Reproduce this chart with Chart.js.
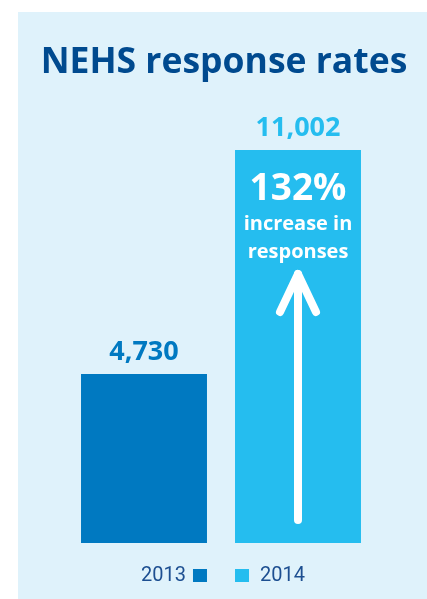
<!DOCTYPE html>
<html>
<head>
<meta charset="utf-8">
<script src="https://cdn.jsdelivr.net/npm/chart.js@4/dist/chart.umd.min.js"></script>
<style>
  html, body { margin: 0; padding: 0; background: #ffffff; }
  body { width: 427px; height: 599px; position: relative; overflow: hidden; }
  #panel { position: absolute; left: 18px; top: 12px; width: 409px; height: 587px; background: #dff2fb; }
  #panel canvas { display: block; }
</style>
</head>
<body>
<div id="panel"><canvas id="c" width="409" height="587"></canvas></div>
<script>
const categories = ['2013', '2014'];
const responses = [4730, 11002];
const valueLabels = ['4,730', '11,002'];
const increaseLabel = ['132%', 'increase in', 'responses'];
const titleText = 'NEHS response rates';

const barColors = ['#0079c1', '#25bdef'];
const FONT = '"Open Sans", "Noto Sans", sans-serif';

const overlay = {
  id: 'overlay',
  afterDatasetsDraw(chart) {
    const ctx = chart.ctx;
    const meta = chart.getDatasetMeta(0);
    const bars = meta.data;
    ctx.save();
    // title
    ctx.textAlign = 'center';
    ctx.textBaseline = 'alphabetic';
    ctx.fillStyle = '#004a8f';
    ctx.font = 'bold 35.5px ' + FONT;
    ctx.fillText(titleText, chart.width / 2 + 1.5, 61);
    // value labels above bars
    ctx.font = 'bold 27px ' + FONT;
    bars.forEach((b, i) => {
      ctx.fillStyle = barColors[i];
      ctx.fillText(valueLabels[i], b.x, b.y - 14);
    });
    // text inside the 2014 bar
    const b1 = bars[1];
    ctx.fillStyle = '#ffffff';
    ctx.font = 'bold 37px ' + FONT;
    ctx.fillText(increaseLabel[0], b1.x, b1.y + 50);
    ctx.font = 'bold 20px ' + FONT;
    ctx.fillText(increaseLabel[1], b1.x, b1.y + 80);
    ctx.fillText(increaseLabel[2], b1.x, b1.y + 108);
    // arrow
    ctx.strokeStyle = '#ffffff';
    ctx.lineWidth = 8;
    ctx.lineCap = 'round';
    ctx.lineJoin = 'round';
    const tipY = b1.y + 124;
    ctx.beginPath();
    ctx.moveTo(b1.x, b1.base - 23);
    ctx.lineTo(b1.x, tipY);
    ctx.stroke();
    ctx.beginPath();
    ctx.moveTo(b1.x - 18, tipY + 38);
    ctx.lineTo(b1.x, tipY);
    ctx.lineTo(b1.x + 18, tipY + 38);
    ctx.stroke();
    // legend
    const ly = b1.base + 33;
    const b0 = bars[0];
    ctx.font = '20px Roboto, "Noto Sans", sans-serif';
    ctx.textBaseline = 'middle';
    ctx.fillStyle = barColors[0];
    const s0x = b0.x + b0.width / 2 - 14;
    ctx.fillRect(s0x, ly - 7, 14, 13);
    ctx.fillStyle = '#1d4f91';
    ctx.textAlign = 'right';
    ctx.fillText(categories[0], s0x - 7, ly);
    ctx.fillStyle = barColors[1];
    const s1x = b1.x - b1.width / 2;
    ctx.fillRect(s1x, ly - 7, 14, 13);
    ctx.fillStyle = '#1d4f91';
    ctx.textAlign = 'left';
    ctx.fillText(categories[1], s1x + 25, ly);
    ctx.restore();
  }
};

new Chart(document.getElementById('c'), {
  type: 'bar',
  data: {
    labels: categories,
    datasets: [{
      label: 'Responses',
      data: responses,
      backgroundColor: barColors,
      borderWidth: 0
    }]
  },
  options: {
    responsive: false,
    animation: false,
    devicePixelRatio: 1,
    layout: { padding: { left: 49, right: 52, bottom: 56, top: 138 } },
    plugins: {
      legend: { display: false },
      tooltip: { enabled: false },
      title: { display: false }
    },
    datasets: { bar: { categoryPercentage: 1, barPercentage: 0.818 } },
    scales: {
      x: { display: false },
      y: { display: false, min: 0, max: 11002 }
    }
  },
  plugins: [overlay]
});
</script>
</body>
</html>
